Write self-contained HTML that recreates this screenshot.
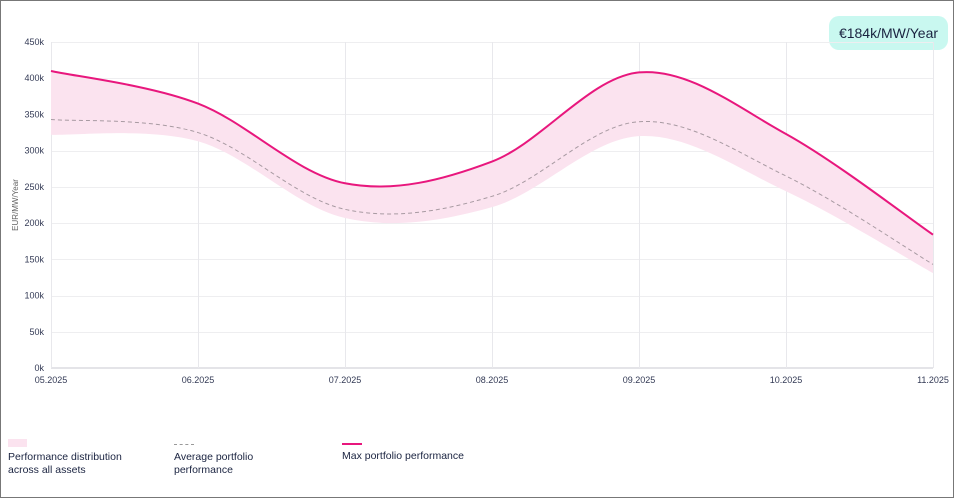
<!DOCTYPE html>
<html><head><meta charset="utf-8"><style>
body{margin:0;background:#fff;font-family:"Liberation Sans",sans-serif;}
#wrap{position:relative;width:952px;height:496px;border:1px solid #777;overflow:hidden;background:#fff}
.badge{position:absolute;left:828px;top:15px;width:119px;height:34px;border-radius:10px;background:#c9f8f0;color:#1a2340;font-size:14px;line-height:34px;text-align:center}
.leg{position:absolute;top:438px;font-size:10.5px;color:#1a2340;line-height:12.5px}
</style></head><body>
<div id="wrap">
<div class="badge">€184k/MW/Year</div>
<svg id="chart" width="954" height="498" style="position:absolute;left:0;top:0"></svg>
<div class="leg" style="left:7px"><div style="width:19px;height:8px;background:#fbe3ef;margin-bottom:4px"></div>Performance distribution<br>across all assets</div>
<div class="leg" style="left:173px"><div style="width:20px;height:0;border-top:1px dashed #999;margin:5px 0 6px"></div>Average portfolio<br>performance</div>
<div class="leg" style="left:341px"><div style="width:20px;height:2px;background:#e8177d;margin:4px 0 5px"></div>Max portfolio performance</div>
</div>
<script>
const categories=["05.2025","06.2025","07.2025","08.2025","09.2025","10.2025","11.2025"];
const maxValues=[410,365,255,285,408,323,184];
const avgValues=[343,325,219,237,340,265,143];
const lowValues=[322,313,207,222,320,244,131];
const yTicks=[0,50,100,150,200,250,300,350,400,450];
const NS="http://www.w3.org/2000/svg";
const svg=document.getElementById('chart');
const x0=50,x1=932,y0=367,y1=41;
const xs=i=>x0+(x1-x0)*i/(categories.length-1);
const ys=v=>y0-(y0-y1)*v/450;
function mk(t,a){const e=document.createElementNS(NS,t);for(const k in a)e.setAttribute(k,a[k]);svg.appendChild(e);return e;}
function curve(vals,rev){
  let pts=vals.map((v,i)=>[xs(i),ys(v)]);
  if(rev)pts=pts.slice().reverse();
  let d=(rev?"L":"M")+pts[0][0]+","+pts[0][1];
  for(let i=0;i<pts.length-1;i++){
    const p0=pts[Math.max(0,i-1)],p1=pts[i],p2=pts[i+1],p3=pts[Math.min(pts.length-1,i+2)];
    const c1=[p1[0]+(p2[0]-p0[0])/6,p1[1]+(p2[1]-p0[1])/6];
    const c2=[p2[0]-(p3[0]-p1[0])/6,p2[1]-(p3[1]-p1[1])/6];
    d+=`C${c1[0]},${c1[1]} ${c2[0]},${c2[1]} ${p2[0]},${p2[1]}`;
  }
  return d;
}
yTicks.forEach(t=>{
  const yy=Math.round(ys(t))+(t===0?0:0.5);
  const l=mk('line',{x1:x0,x2:x1,y1:yy,y2:yy,stroke:t===0?'#e4e4e8':'#eeeef0','stroke-width':t===0?2:1});
  
  
  const tx=mk('text',{x:43,y:ys(t)+3,'text-anchor':'end','font-size':9,fill:'#333a55','font-family':'Liberation Sans'});
  tx.textContent=t+'k';
  
  
});
categories.forEach((c,i)=>{
  const xx=Math.round(xs(i))+0.5;
  const l=mk('line',{x1:xx,x2:xx,y1:y1,y2:y0,stroke:'#e8e8ec','stroke-width':1});
  
  
  const tx=mk('text',{x:xs(i),y:382,'text-anchor':'middle','font-size':9,fill:'#333a55','font-family':'Liberation Sans'});
  tx.textContent=c;
  
  
});
const yt=mk('text',{transform:'translate(17,204) rotate(-90)','text-anchor':'middle','font-size':8,fill:'#666','font-family':'Liberation Sans'});
yt.textContent='EUR/MW/Year';


const band=mk('path',{d:curve(maxValues)+curve(lowValues,true)+'Z',fill:'#fbe3ef'});


const avg=mk('path',{d:curve(avgValues),fill:'none',stroke:'#a89aa2','stroke-width':1,'stroke-dasharray':'4 3'});


const mx=mk('path',{d:curve(maxValues),fill:'none',stroke:'#e8177d','stroke-width':2});


</script>
</body></html>
